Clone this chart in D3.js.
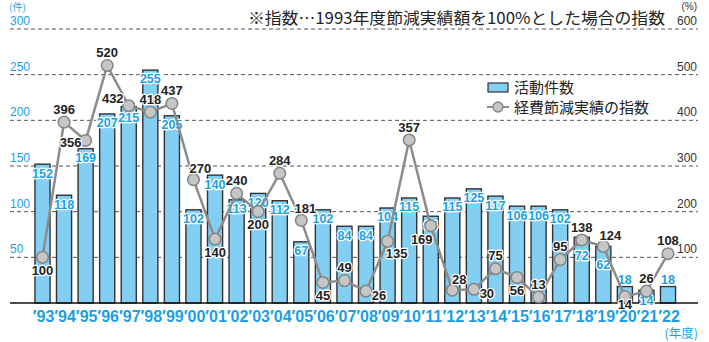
<!DOCTYPE html>
<html lang="ja">
<head>
<meta charset="utf-8">
<script src="https://cdn.jsdelivr.net/npm/d3@7"></script>
<style>
  html, body { margin: 0; padding: 0; background: #fff; }
  svg { display: block; }
  .num { font-family: "Liberation Sans Narrow", "Arial Narrow", "Liberation Sans", sans-serif; }
  .jp { font-family: "Noto Sans CJK JP", sans-serif; }
</style>
</head>
<body>
<svg id="chart" width="709" height="342"></svg>
<script>
// 年度
const years = ["93","94","95","96","97","98","99","00","01","02","03","04","05","06","07",
               "08","09","10","11","12","13","14","15","16","17","18","19","20","21","22"];
// 活動件数（件）
const counts = [152,118,169,207,215,255,205,102,140,113,120,112,67,102,84,
                84,104,115,95,115,125,117,106,106,102,72,62,18,14,18];
// 経費節減実績の指数（1993年度 = 100%）
const indexValues = [100,396,356,520,432,418,437,270,140,240,200,284,181,45,49,
                     26,135,357,169,28,30,75,56,13,95,138,124,14,26,108];
// 目盛
const leftTicks = [50,100,150,200,250,300];
const rightTicks = [100,200,300,400,500,600];

// ラベルの配置（指数ラベル / 件数ラベル）
const indexLabelPlace = ["b","t","l","t","tl","t","t","tr","b","t","b","t","tr2","b","t",
                         "r","br","t","bl","tr","r","t","b","t","t","t","tr","b2","t","t"];
const countLabelPlace = ["in","in","in","in","in2","in","in","in","in","in","in","in","in","in","in",
                         "in","in","in","in","in","in","in","in","in","in","low","low","above","below","above"];

const BLUE = "#1a9fe3";
const BAR = "#82cff3";
const svg = d3.select("#chart");

const plotL = 10, plotR = 698;
const x = d3.scaleBand().domain(years).range([31.7, 678.8]).paddingInner(0.3).paddingOuter(0.15);
const yL = d3.scaleLinear().domain([0, 300]).range([303, 29]);
const yR = d3.scaleLinear().domain([0, 600]).range([303, 29]);

// 破線グリッド
svg.append("g").selectAll("line").data(leftTicks).join("line")
  .attr("x1", plotL).attr("x2", plotR)
  .attr("y1", d => yL(d)).attr("y2", d => yL(d))
  .attr("stroke", "#555").attr("stroke-width", 1).attr("stroke-dasharray", "4,3");

// 左軸ラベル
svg.append("g").selectAll("text").data(leftTicks).join("text")
  .attr("class", "num").attr("x", plotL).attr("y", d => yL(d) - 4)
  .attr("font-size", 12).attr("fill", BLUE).text(d => d);
svg.append("text").attr("class", "jp").attr("x", plotL - 1).attr("y", 11)
  .attr("font-size", 10).attr("fill", BLUE).text("(件)");

// 右軸ラベル
svg.append("g").selectAll("text").data(rightTicks).join("text")
  .attr("class", "num").attr("x", 697).attr("y", d => yR(d) - 4)
  .attr("text-anchor", "end").attr("font-size", 12).attr("fill", "#333").text(d => d);
svg.append("text").attr("class", "num").attr("x", 697).attr("y", 10)
  .attr("text-anchor", "end").attr("font-size", 10).attr("fill", "#333").text("(%)");

// 棒（活動件数）
svg.append("g").selectAll("rect").data(years).join("rect")
  .attr("x", d => x(d)).attr("width", x.bandwidth())
  .attr("y", (d, i) => yL(counts[i])).attr("height", (d, i) => yL(0) - yL(counts[i]))
  .attr("fill", BAR).attr("stroke", "#333").attr("stroke-width", 1.4);

// 基線
svg.append("line").attr("x1", plotL).attr("x2", plotR).attr("y1", yL(0)).attr("y2", yL(0))
  .attr("stroke", "#111").attr("stroke-width", 1.5);

// 件数ラベル
const countDy = { in: 9, in2: 11, low: 18, above: -7, below: 10 };
svg.append("g").selectAll("text").data(years).join("text")
  .attr("class", "num")
  .attr("x", d => x(d) + x.bandwidth() / 2)
  .attr("y", (d, i) => yL(counts[i]) + countDy[countLabelPlace[i]])
  .attr("dy", "0.35em").attr("text-anchor", "middle")
  .attr("font-size", 12.5).attr("font-weight", "bold").attr("fill", BLUE)
  .attr("stroke", "#fff").attr("stroke-width", 2.5).attr("paint-order", "stroke")
  .attr("stroke-linejoin", "round")
  .text((d, i) => counts[i]);

// 指数の折れ線
const cx = d => x(d) + x.bandwidth() / 2;
const line = d3.line().x(d => cx(d)).y((d, i) => yR(indexValues[i]));
svg.append("path").datum(years).attr("d", line)
  .attr("fill", "none").attr("stroke", "#8c8c8c").attr("stroke-width", 2.5);
svg.append("g").selectAll("circle").data(years).join("circle")
  .attr("cx", d => cx(d)).attr("cy", (d, i) => yR(indexValues[i])).attr("r", 5.8)
  .attr("fill", "#c6c6c6").attr("stroke", "#848484").attr("stroke-width", 1.5);

// 指数ラベル
const off = { t: [0, -13], b: [0, 13], b2: [0, 8], l: [-15, 2], r: [13, 4], tl: [-16, -7],
              tr: [7, -11], tr2: [4, -12], bl: [-9, 14], br: [9, 12] };
svg.append("g").selectAll("text").data(years).join("text")
  .attr("class", "num")
  .attr("x", (d, i) => cx(d) + off[indexLabelPlace[i]][0])
  .attr("y", (d, i) => yR(indexValues[i]) + off[indexLabelPlace[i]][1])
  .attr("dy", "0.35em").attr("text-anchor", "middle")
  .attr("font-size", 13).attr("font-weight", "bold").attr("fill", "#222")
  .attr("stroke", "#fff").attr("stroke-width", 2.5).attr("paint-order", "stroke")
  .attr("stroke-linejoin", "round")
  .text((d, i) => indexValues[i]);

// 年度ラベル
svg.append("g").selectAll("text").data(years).join("text")
  .attr("class", "num").attr("x", d => cx(d) + 1).attr("y", 322)
  .attr("text-anchor", "middle").attr("font-size", 16).attr("font-weight", "bold")
  .attr("fill", BLUE)
  .text(d => "\u2032" + d);
svg.append("text").attr("class", "jp").attr("x", 698).attr("y", 338)
  .attr("text-anchor", "end").attr("font-size", 12.5).attr("fill", BLUE).text("(年度)");

// 注記
svg.append("text").attr("class", "jp").attr("x", 248).attr("y", 24)
  .attr("font-size", 16).attr("fill", "#222")
  .attr("textLength", 417).attr("lengthAdjust", "spacingAndGlyphs")
  .text("※指数…1993年度節減実績額を100%とした場合の指数");

// 凡例
const lg = svg.append("g");
lg.append("rect").attr("x", 488).attr("y", 83).attr("width", 20).attr("height", 9)
  .attr("fill", BAR).attr("stroke", "#333").attr("stroke-width", 1.2);
lg.append("text").attr("class", "jp").attr("x", 514).attr("y", 93)
  .attr("font-size", 15).attr("fill", "#222").text("活動件数");
lg.append("line").attr("x1", 487).attr("x2", 509).attr("y1", 107).attr("y2", 107)
  .attr("stroke", "#8c8c8c").attr("stroke-width", 2);
lg.append("circle").attr("cx", 498).attr("cy", 107).attr("r", 5)
  .attr("fill", "#c6c6c6").attr("stroke", "#848484").attr("stroke-width", 1.3);
lg.append("text").attr("class", "jp").attr("x", 514).attr("y", 113)
  .attr("font-size", 15).attr("fill", "#222").text("経費節減実績の指数");
</script>
</body>
</html>
